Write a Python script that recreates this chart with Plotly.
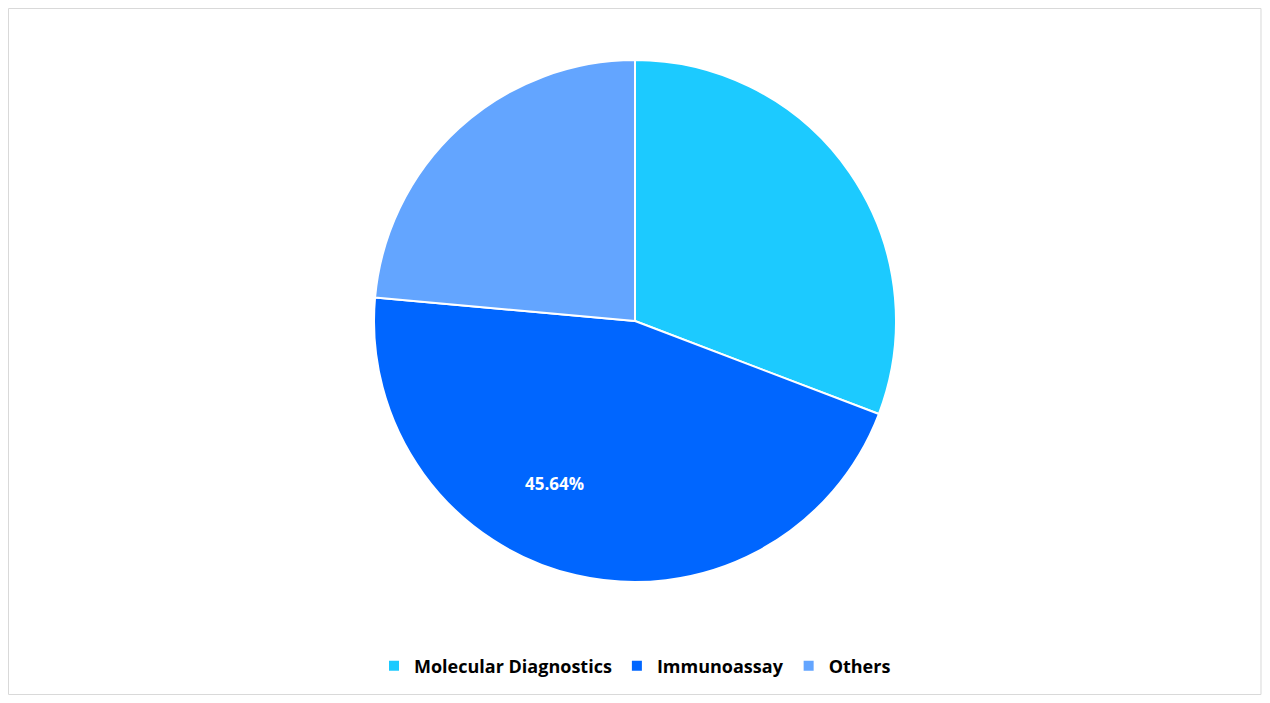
import plotly.graph_objects as go

segments = ["Molecular Diagnostics", "Immunoassay", "Others"]
shares = [30.8, 45.64, 23.56]
shown_labels = ["", "45.64%", ""]
colors = ["#1ccaff", "#0066ff", "#63a5ff"]

fig = go.Figure(go.Pie(
    labels=segments,
    values=shares,
    textinfo="none",
    marker=dict(colors=colors, line=dict(color="white", width=2)),
    sort=False,
    direction="clockwise",
    rotation=0,
    hoverinfo="label+percent",
))

# data label on the biggest slice, placed like the original
fig.add_annotation(text=shown_labels[1], x=0.436, y=0.163, xref="paper", yref="paper",
                   showarrow=False, font=dict(color="white", size=17, family="Open Sans", weight="bold"))

fig.update_layout(
    width=1254, height=687,
    margin=dict(l=0, r=0, t=52, b=113),
    paper_bgcolor="white",
    font=dict(family="Open Sans", color="#111111"),
    showlegend=True,
    legend=dict(orientation="h", x=0.5, xanchor="center", y=-0.161, yanchor="middle",
                font=dict(size=18, weight="bold", color="#000000")),
    shapes=[dict(type="rect", xref="paper", yref="paper",
                 x0=0.0004, x1=0.9992, y0=-0.2155, y1=1.0986,
                 line=dict(color="#d9d9d9", width=1))],
)

fig.write_html("out.html")
